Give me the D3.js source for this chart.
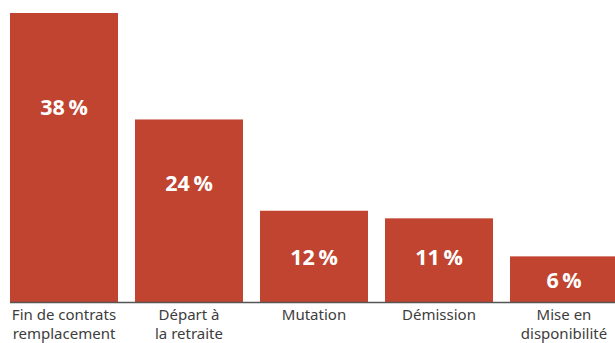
<!DOCTYPE html>
<html><head><meta charset="utf-8">
<script src="https://cdn.jsdelivr.net/npm/d3@7"></script>
<style>body{margin:0;background:#fff}svg{display:block}</style>
</head><body>
<svg id="c" width="615" height="343"></svg>
<script>
const categories = [["Fin de contrats","remplacement"],["Départ à","la retraite"],["Mutation"],["Démission"],["Mise en","disponibilité"]];
const values = [38, 24, 12, 11, 6];
const valueLabels = ["38\u2009%", "24\u2009%", "12\u2009%", "11\u2009%", "6\u2009%"];
const labelAnchor = [25.6, 15.6, 5.9, 5.9, 2.9];

const svg = d3.select("#c");
const baseY = 302;
const x = d3.scaleBand().domain(d3.range(values.length)).range([10, 618]).paddingInner(0.136).paddingOuter(0);
const y = d3.scaleLinear().domain([0, 38]).range([baseY, 13]);

svg.selectAll("rect.bar").data(values).join("rect")
  .attr("class","bar")
  .attr("x", (d,i)=>x(i)).attr("width", x.bandwidth())
  .attr("y", d=>y(d)).attr("height", d=>baseY - y(d))
  .attr("fill", "#c0442f");

svg.append("line").attr("x1",10).attr("x2",615).attr("y1",baseY+0.5).attr("y2",baseY+0.5)
  .attr("stroke","#555").attr("stroke-width",1.5);

svg.selectAll("text.val").data(values).join("text")
  .attr("class","val")
  .attr("x",(d,i)=>x(i)+x.bandwidth()/2)
  .attr("y",(d,i)=>y(labelAnchor[i]))
  .attr("dy","0.36em")
  .attr("text-anchor","middle")
  .attr("fill","#fff")
  .attr("font-family","'Open Sans', sans-serif")
  .attr("font-weight","bold")
  .attr("font-size",21.5)
  .text((d,i)=>valueLabels[i]);

const cat = svg.selectAll("text.cat").data(categories).join("text")
  .attr("class","cat")
  .attr("x",(d,i)=>x(i)+x.bandwidth()/2)
  .attr("y",320)
  .attr("text-anchor","middle")
  .attr("fill","#3d3d3d")
  .attr("font-family","'Noto Sans', sans-serif")
  .attr("font-size",15);
cat.selectAll("tspan").data((d,i)=>d.map(t=>({t,i}))).join("tspan")
  .attr("x",d=>x(d.i)+x.bandwidth()/2)
  .attr("dy",(d,j)=>j===0?0:18.5)
  .text(d=>d.t);
</script>
</body></html>
